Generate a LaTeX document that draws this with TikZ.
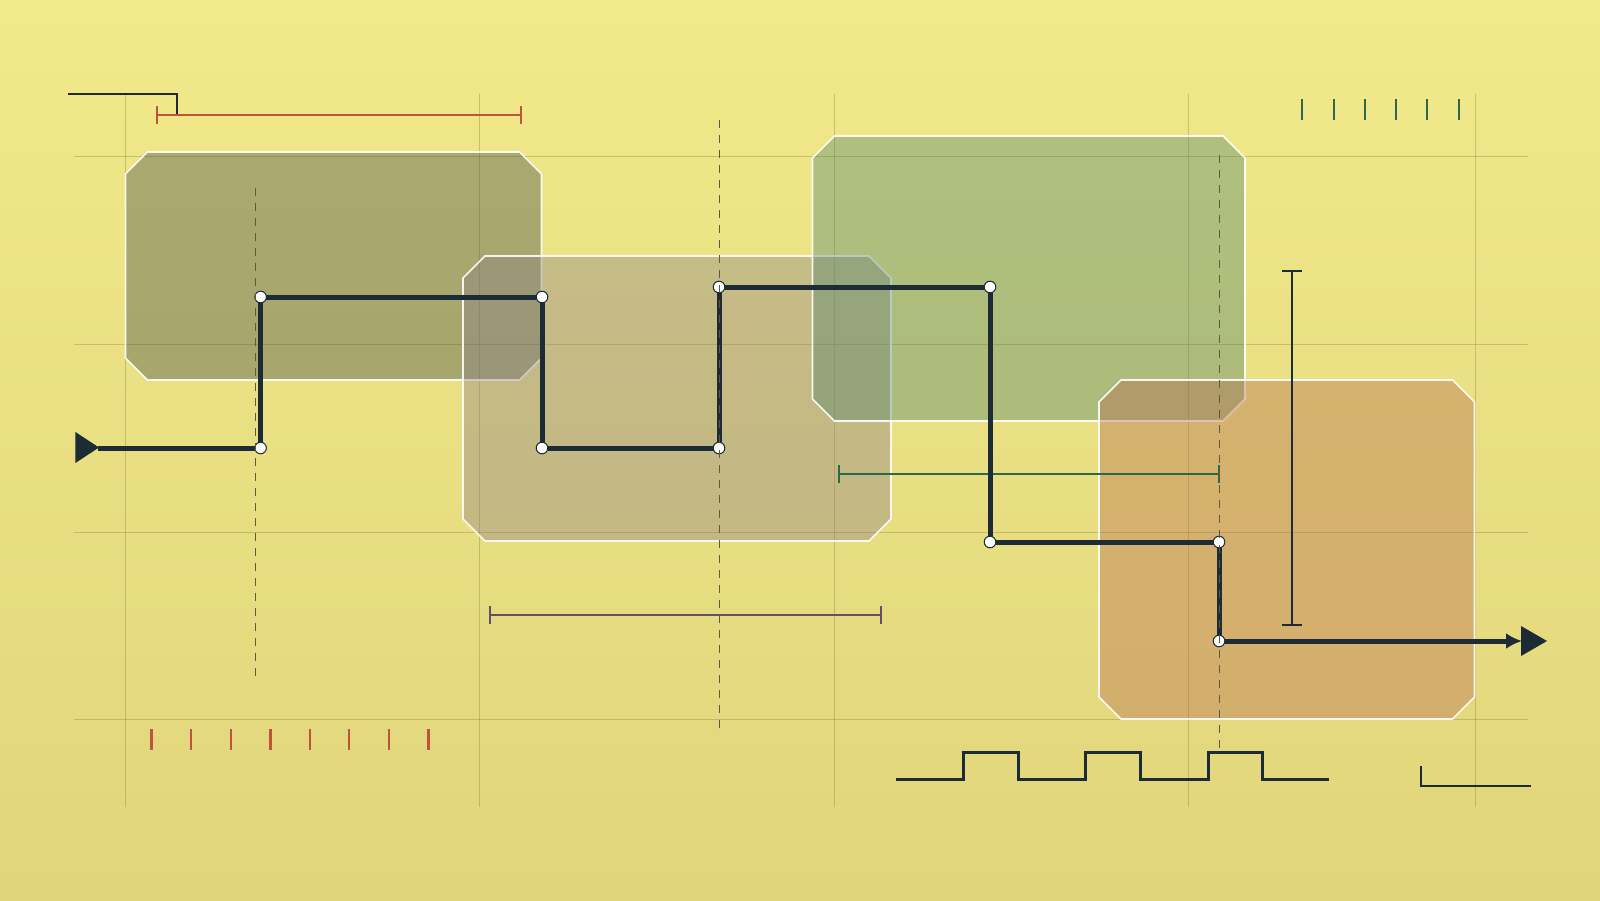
\documentclass[tikz,border=0pt]{standalone}
\usetikzlibrary{arrows.meta}
\definecolor{bgtop}{RGB}{241,233,138}
\definecolor{bgbot}{RGB}{225,213,123}
\definecolor{ink}{RGB}{28,43,54}
\definecolor{boxA}{RGB}{58,71,72}
\definecolor{boxB}{RGB}{138,125,136}
\definecolor{boxC}{RGB}{74,130,109}
\definecolor{boxD}{RGB}{183,104,80}
\definecolor{redc}{RGB}{192,84,58}
\definecolor{greenc}{RGB}{44,104,74}
\definecolor{purplec}{RGB}{98,80,104}
\definecolor{gridc}{RGB}{130,120,60}
\definecolor{dashc}{RGB}{95,90,58}
\newcommand{\chbox}[5]{%
  \path[#1] (#2+22,#3) -- (#4-22,#3) -- (#4,#3+22) -- (#4,#5-22) -- (#4-22,#5) -- (#2+22,#5) -- (#2,#5-22) -- (#2,#3+22) -- cycle;}
\tikzset{
  gridline/.style={draw=gridc, draw opacity=0.35, line width=0.5pt},
  panel/.style={fill=#1, fill opacity=0.38, draw=white, draw opacity=0.9, line width=0.8pt, line join=miter},
  mainline/.style={draw=ink, line width=2.5pt, line join=miter},
  joint/.style={circle, fill=white, draw=ink, line width=0.5pt, minimum size=5.8pt, inner sep=0pt},
  guide/.style={draw=dashc, line width=0.5pt, dash pattern=on 4pt off 3.5pt},
  measure/.style={draw=#1, line width=0.8pt},
  tickmark/.style={draw=#1, line width=1.2pt},
  stepline/.style={draw=ink, line width=1.4pt, line join=miter},
}
\begin{document}
\begin{tikzpicture}[x=0.5pt,y=-0.5pt]
\useasboundingbox (0,0) rectangle (1600,900);
\shade[top color=bgtop, bottom color=bgbot] (0,0) rectangle (1600,900);

% grid
\foreach \gx in {125.5,479.5,834,1188,1475} \draw[gridline] (\gx,94) -- (\gx,807);
\foreach \gy in {156,344,532,719} \draw[gridline] (73.5,\gy) -- (1528,\gy);

% panels
\chbox{panel=boxA}{125.5}{152}{541.5}{380}
\chbox{panel=boxB}{463}{256}{891}{541}
\chbox{panel=boxC}{812.5}{136}{1245}{421}
\chbox{panel=boxD}{1099}{380}{1474.5}{719}

% top-left step
\coordinate (s1) at (68,94); \coordinate (s2) at (177,94); \coordinate (s3) at (177,114);
\draw[stepline] (s1) -- (s2) -- (s3);

% red bracket
\coordinate (ra) at (157,115); \coordinate (rb) at (521,115);
\draw[measure=redc] (ra) -- (rb);
\draw[measure=redc] ([yshift=4.5pt]ra) -- ([yshift=-4.5pt]ra);
\draw[measure=redc] ([yshift=4.5pt]rb) -- ([yshift=-4.5pt]rb);

% green ticks top-right
\foreach \tx in {1302,1334,1365,1396,1427,1459} \draw[tickmark=greenc] (\tx,99) -- (\tx,120);
% red ticks bottom-left
\foreach \tx in {151.5,191,231,270.6,310,349,389,428.6} \draw[tickmark=redc] (\tx,729) -- (\tx,750);

% green bracket
\coordinate (ga) at (839,474); \coordinate (gb) at (1219,474);
\draw[measure=greenc] (ga) -- (gb);
\draw[measure=greenc] ([yshift=4.5pt]ga) -- ([yshift=-4.5pt]ga);
\draw[measure=greenc] ([yshift=4.5pt]gb) -- ([yshift=-4.5pt]gb);

% purple bracket
\coordinate (pa) at (490,615); \coordinate (pb) at (881,615);
\draw[measure=purplec] (pa) -- (pb);
\draw[measure=purplec] ([yshift=4.5pt]pa) -- ([yshift=-4.5pt]pa);
\draw[measure=purplec] ([yshift=4.5pt]pb) -- ([yshift=-4.5pt]pb);

% vertical bracket
\coordinate (va) at (1292,271); \coordinate (vb) at (1292,625);
\draw[measure=ink] (va) -- (vb);
\draw[measure=ink] ([xshift=-4.8pt]va) -- ([xshift=4.8pt]va);
\draw[measure=ink] ([xshift=-4.8pt]vb) -- ([xshift=4.8pt]vb);

% square wave
\draw[stepline, line width=1.5pt] (896,779) -- (963,779) -- (963,752) -- (1018,752) -- (1018,779)
  -- (1085,779) -- (1085,752) -- (1140,752) -- (1140,779) -- (1208,779) -- (1208,752)
  -- (1262,752) -- (1262,779) -- (1329,779);
% bottom-right L
\coordinate (l1) at (1421,766); \coordinate (l2) at (1421,786); \coordinate (l3) at (1531,786);
\draw[stepline] (l1) -- (l2) -- (l3);

% main path
\coordinate (st) at (98,448);
\coordinate (n1) at (260.6,448);
\coordinate (n2) at (260.6,297);
\coordinate (n3) at (542,297);
\coordinate (n4) at (542,448);
\coordinate (n5) at (719,448);
\coordinate (n6) at (719,287);
\coordinate (n7) at (990,287);
\coordinate (n8) at (990,542);
\coordinate (n9) at (1219,542);
\coordinate (n10) at (1219,641);
\coordinate (en) at (1522,641);
\fill[ink] (75.4,432) -- (75.4,463) -- (99,447.5) -- cycle;
\fill[ink] (1521,626) -- (1521,656) -- (1547,641) -- cycle;
\draw[mainline] (st) -- (n1) -- (n2) -- (n3) -- (n4) -- (n5) -- (n6) -- (n7) -- (n8) -- (n9) -- (n10);
\draw[mainline, -{Latex[length=8pt,width=8pt]}] (n10) -- (en);
\foreach \k in {1,...,10} \node[joint] (j\k) at (n\k) {};

% dashed guides
\coordinate (d1a) at (255.6,188); \coordinate (d1b) at (255.6,677);
\coordinate (d2a) at (719,120); \coordinate (d2b) at (719,735);
\coordinate (d3a) at (1219,155); \coordinate (d3b) at (1219,748);
\draw[guide] (d1a) -- (d1b);
\draw[guide] (d2a) -- (d2b);
\draw[guide] (d3a) -- (d3b);
\end{tikzpicture}
\end{document}
